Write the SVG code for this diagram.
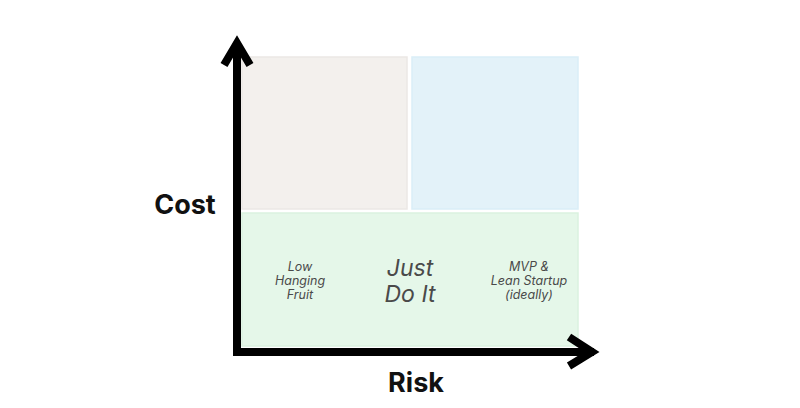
<svg xmlns="http://www.w3.org/2000/svg" width="800" height="408" viewBox="0 0 800 408">
<style>
.q{stroke-width:1.5}
.lbl{font-family:Inter,"Liberation Sans",sans-serif;font-style:italic;fill:#4a4a4a;text-anchor:middle}
.ax{font-family:Inter,"Liberation Sans",sans-serif;font-weight:700;fill:#111;font-size:27px}
.axis{fill:none;stroke:#000;stroke-width:8;stroke-linejoin:miter;stroke-linecap:butt}
</style>
<rect width="800" height="408" fill="#fff"/>
<g id="q-top-left"><rect class="q" x="242" y="57" width="165" height="152" fill="#f3f0ed" stroke="#ebe8e5"/></g>
<g id="q-top-right"><rect class="q" x="412" y="57" width="166" height="152" fill="#e3f2f9" stroke="#daeef7"/></g>
<g id="q-bottom">
<rect class="q" x="242" y="213" width="336" height="133" fill="#e5f7e9" stroke="#daf2df"/>
<text class="lbl" font-size="12.5"><tspan x="300" y="271">Low</tspan><tspan x="300" y="285">Hanging</tspan><tspan x="300" y="299">Fruit</tspan></text>
<text class="lbl" font-size="23"><tspan x="410" y="276">Just</tspan><tspan x="410" y="302">Do It</tspan></text>
<text class="lbl" font-size="12.5"><tspan x="529" y="271">MVP &amp;</tspan><tspan x="529" y="285">Lean Startup</tspan><tspan x="529" y="299">(ideally)</tspan></text>
</g>
<g id="connectors">
<path class="axis" d="M237,42 V352 H594"/>
<polyline class="axis" points="224,65 237,43 250,65"/>
<polyline class="axis" points="569,337 592,352 569,366"/>
</g>
<g id="axis-labels">
<text class="ax" x="185" y="214" text-anchor="middle">Cost</text>
<text class="ax" x="416" y="392" text-anchor="middle">Risk</text>
</g>
</svg>
